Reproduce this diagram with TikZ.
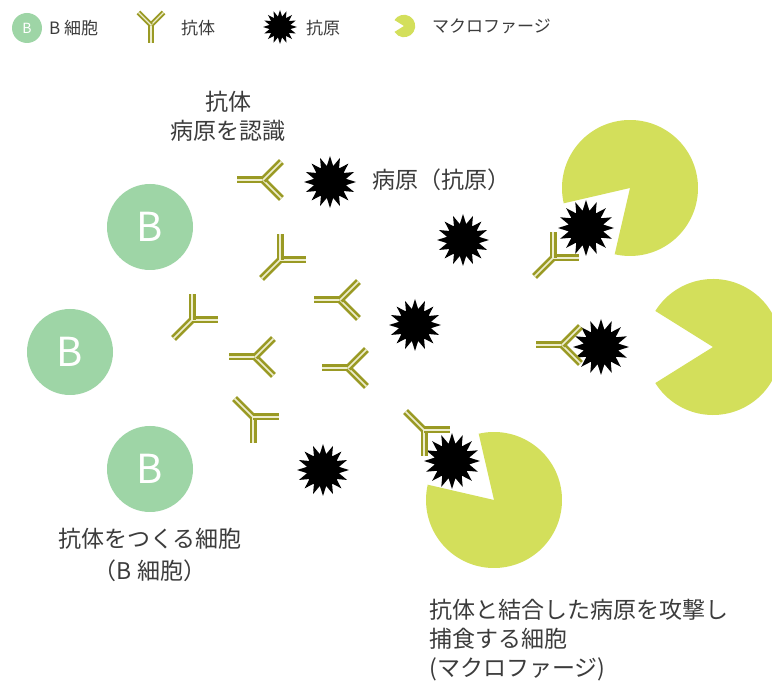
\documentclass[tikz,border=0pt]{standalone}
\usepackage{fontspec}
\setmainfont{Noto Sans CJK JP}
\usetikzlibrary{shapes.geometric}

\definecolor{bcell}{HTML}{9ED5A6}
\definecolor{mac}{HTML}{D3DF5B}
\definecolor{abline}{HTML}{9A9A24}
\definecolor{abgap}{HTML}{EEEECF}
\definecolor{txt}{HTML}{3C3C3C}

\begin{document}
\begin{tikzpicture}[x=1pt, y=-1pt,
  cell/.style={circle, fill=bcell, minimum size=86pt, inner sep=0pt, text=white,
    font=\fontsize{40}{40}\selectfont},
  pathogen/.style={star, star points=16, star point ratio=1.6, fill=black,
    minimum size=52pt, inner sep=0pt},
  ab/.style={draw=abline, double=abgap, line width=2.7pt, double distance=1.6pt},
  lbl/.style={text=txt, font=\fontsize{23}{29}\selectfont, align=center},
  key/.style={text=txt, font=\fontsize{17}{17}\selectfont, anchor=west, inner sep=0pt},
  antibody/.pic={
    \draw[ab] (-26,0) -- (0,0);
    \draw[ab] (0,0) -- (45:26);
    \draw[ab] (0,0) -- (-45:26);
  },
  phage/.pic={
    \fill[mac] (0,0) -- (212:68) arc[start angle=212, end angle=508, radius=68] -- cycle;
  }]

  \fill[white] (0,0) rectangle (772,684);
  \useasboundingbox (0,0) rectangle (772,684);

  % legend
  \node[cell, minimum size=30pt, font=\fontsize{14}{14}\selectfont] (kb) at (27,28) {B};
  \node[key] (kbt) at (49,28) {B 細胞};
  \pic[rotate=90, scale=0.68, ab/.append style={line width=2pt, double distance=1.2pt}] at (151,25) {antibody};
  \node[key] (kabt) at (181,28) {抗体};
  \node[pathogen, minimum size=34pt] (kag) at (280,27) {};
  \node[key] (kagt) at (306,28) {抗原};
  \pic[scale=0.165] at (404,26) {phage};
  \node[key] (kmt) at (432,26) {マクロファージ};

  % macrophages
  \pic[rotate=45] at (630,188) {phage};
  \pic at (713,347) {phage};
  \pic[rotate=-45] at (494,500) {phage};

  % B cells
  \node[cell] (b1) at (150,227) {B};
  \node[cell] (b2) at (70,352) {B};
  \node[cell] (b3) at (150,469) {B};

  % free and bound pathogens
  \node[pathogen] (ag1) at (330,182) {};
  \node[pathogen] (ag2) at (463,240) {};
  \node[pathogen] (ag3) at (415,325) {};
  \node[pathogen] (ag4) at (323,470) {};
  \node[pathogen, minimum size=56pt] (bd1) at (586,228) {};
  \node[pathogen, minimum size=56pt] (bd2) at (601,347) {};
  \node[pathogen, minimum size=56pt] (bd3) at (452,461) {};

  % antibodies
  \pic at (263,180) {antibody};
  \pic[rotate=45] at (280,260) {antibody};
  \pic at (340,300) {antibody};
  \pic[rotate=45] at (192,320) {antibody};
  \pic at (255,357) {antibody};
  \pic at (348,368) {antibody};
  \pic[rotate=-45] at (253,417) {antibody};
  \pic[rotate=45] at (553,258) {antibody};
  \pic at (562,345) {antibody};
  \pic[rotate=-45] at (424,430) {antibody};

  % labels
  \node[lbl] (lrec) at (228,116) {抗体\\病原を認識};
  \node[lbl] (lpat) at (441,180) {病原（抗原）};
  \node[lbl, font=\fontsize{23}{32}\selectfont] (lbc) at (150,555) {抗体をつくる細胞\\（B 細胞）};
  \node[lbl, align=left, anchor=west] (lmac) at (426,640) {抗体と結合した病原を攻撃し\\捕食する細胞\\(マクロファージ)};
\end{tikzpicture}
\end{document}
